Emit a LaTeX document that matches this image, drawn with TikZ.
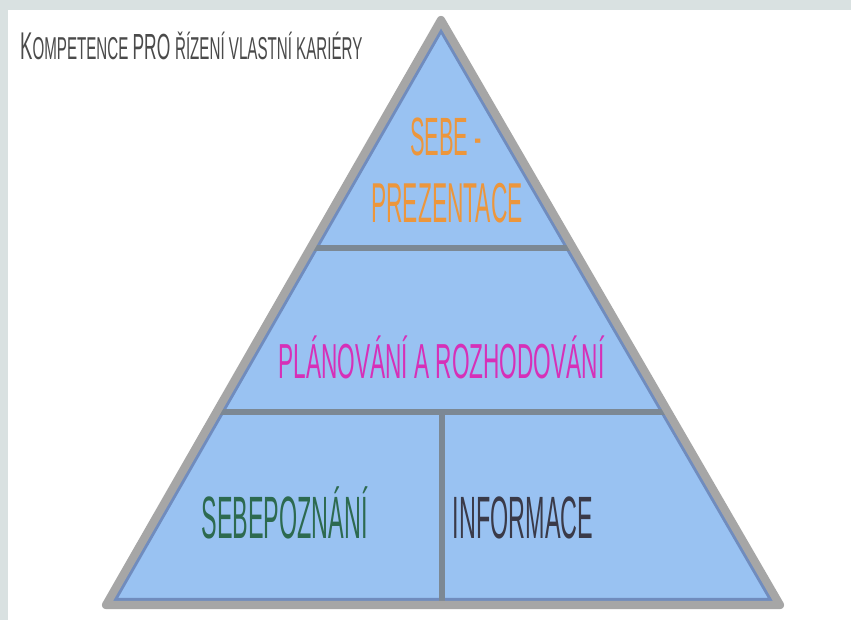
\documentclass[tikz,border=0pt]{standalone}
\usepackage{fontspec}
\usepackage{tikz}
\usetikzlibrary{calc}
\newfontfamily\amatic[FakeStretch=0.46]{Liberation Sans}
\definecolor{framegray}{RGB}{217,225,225}
\definecolor{pyrblue}{RGB}{153,194,242}
\definecolor{pyrshade}{RGB}{112,140,190}
\definecolor{edgegray}{RGB}{166,166,166}
\definecolor{divgray}{RGB}{124,136,148}
\definecolor{myorange}{RGB}{236,150,60}
\definecolor{mymagenta}{RGB}{214,48,184}
\definecolor{mygreen}{RGB}{45,106,80}
\definecolor{mydark}{RGB}{58,58,72}
\definecolor{mytitle}{RGB}{74,74,74}

\begin{document}
\begin{tikzpicture}[x=0.3mm, y=-0.3mm, line join=round,
		pyrtext/.style={anchor=base, inner sep=0pt}]
				% Rahmen
				\fill[white] (0,0) rectangle (851,620);
				\fill[framegray] (0,0) rectangle (851,10);
				\fill[framegray] (0,0) rectangle (8,620);
				\useasboundingbox (0,0) rectangle (851,620);
				% Ecken der Pyramide
				\coordinate (apex) at (441,20);
				\coordinate (bl) at (106,605);
				\coordinate (br) at (780,605);
				\coordinate (l1) at ($(apex)!0.39!(bl)$);
				\coordinate (r1) at ($(apex)!0.39!(br)$);
				\coordinate (l2) at ($(apex)!0.67!(bl)$);
				\coordinate (r2) at ($(apex)!0.67!(br)$);
				\coordinate (m2) at (442,412);
				\coordinate (m3) at (442,605);
				% Flaeche mit Schatten innen
				\fill[pyrblue] (apex) -- (bl) -- (br) -- cycle;
				\begin{scope}
					\clip (apex) -- (bl) -- (br) -- cycle;
					\draw[pyrshade, line width=12pt] (apex) -- (bl) -- (br) -- cycle;
				\end{scope}
				% Trennlinien
				\draw[divgray, line width=4.6pt] (l1) -- (r1);
				\draw[divgray, line width=4.6pt] (l2) -- (r2);
				\draw[divgray, line width=4.6pt] (m2) -- (m3);
				% Rand
				\draw[edgegray, line width=7pt] (apex) -- (bl) -- (br) -- cycle;
				% Beschriftung
				\node[pyrtext, anchor=base west, text=mytitle, xscale=1.04] (title) at (20,59)
					{\amatic\fontsize{33}{33}\selectfont K\fontsize{27}{27}\selectfont OMPETENCE \fontsize{31}{31}\selectfont PRO \fontsize{27}{27}\selectfont ŘÍZENÍ VLASTNÍ KARIÉRY};
				\node[pyrtext, text=myorange, xscale=0.88] (sebe) at (446,155)
					{\amatic\fontsize{46}{46}\selectfont SEBE -};
				\node[pyrtext, text=myorange, xscale=0.88] (prez) at (447,222)
					{\amatic\fontsize{48}{48}\selectfont PREZENTACE};
				\node[pyrtext, text=mymagenta] (plan) at (441.5,378)
					{\amatic\fontsize{42}{42}\selectfont PLÁNOVÁNÍ A ROZHODOVÁNÍ};
				\node[pyrtext, text=mygreen, xscale=0.85] (self) at (284.5,538)
					{\amatic\fontsize{51}{51}\selectfont SEBEPOZNÁNÍ};
				\node[pyrtext, text=mydark, xscale=0.85] (info) at (523,538)
					{\amatic\fontsize{51}{51}\selectfont INFORMACE};
		\end{tikzpicture}
\end{document}
